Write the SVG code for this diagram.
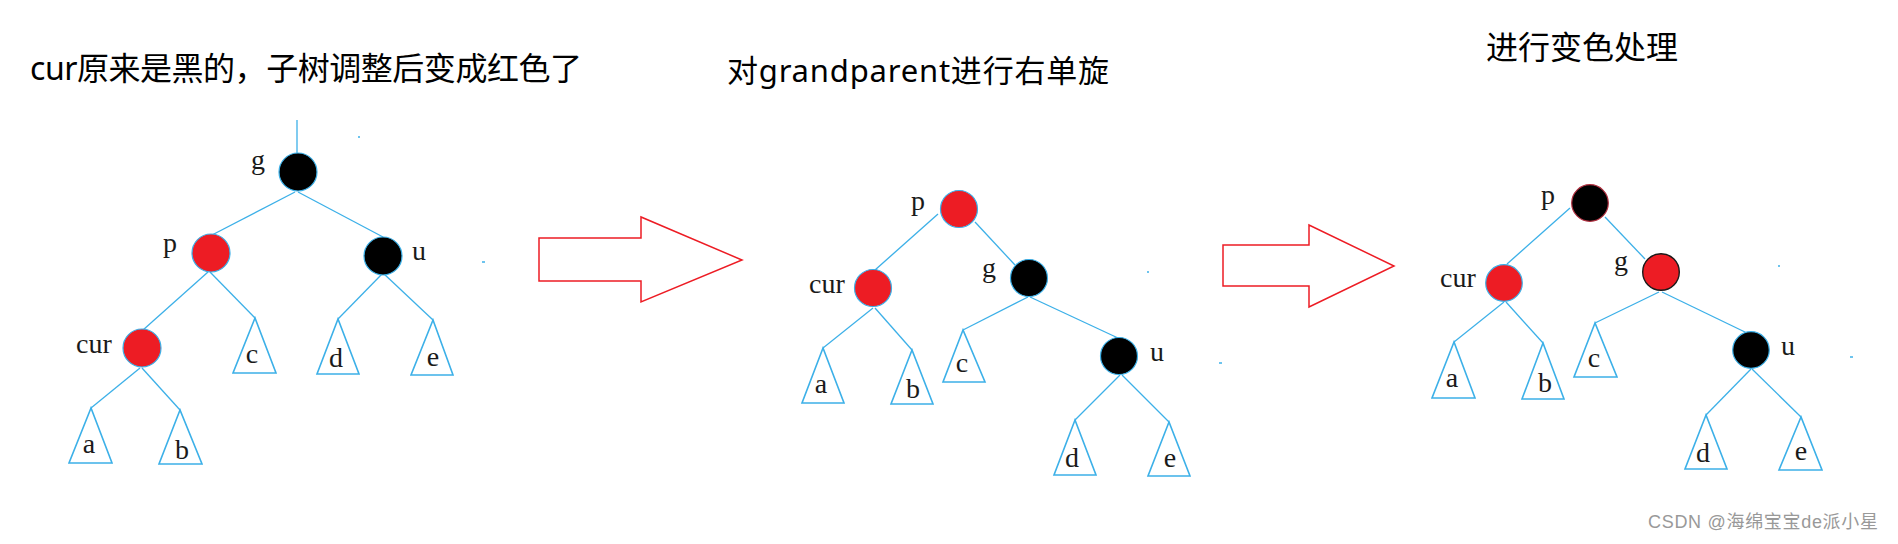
<svg xmlns="http://www.w3.org/2000/svg" width="1898" height="544" viewBox="0 0 1898 544">
<style>
.title{font-family:"Noto Sans","Noto Sans CJK SC",sans-serif;fill:#000}
.lbl{font-family:"Liberation Serif",serif;font-size:28px;fill:#1a1a1a;text-anchor:middle}
.edge{stroke:#3cb0e8;stroke-width:1.3;fill:none}
.tri{stroke:#3cb0e8;stroke-width:1.6;fill:#fff}
.red{fill:#ed1c24;stroke:#3cb0e8;stroke-width:1.2}
.blk{fill:#000;stroke:#3cb0e8;stroke-width:1.2}
.arrow{fill:#fff;stroke:#ed1c24;stroke-width:1.5}
.dot{stroke:#3cb0e8;stroke-width:1.5}
.wm{font-family:"Liberation Sans","Noto Sans CJK SC",sans-serif;font-size:18px;fill:#999}
</style>
<rect width="1898" height="544" fill="#fff"/>

<!-- titles -->
<text class="title" x="30" y="80" font-size="32" textLength="552" lengthAdjust="spacing">cur原来是黑的，子树调整后变成红色了</text>
<text class="title" x="727" y="82" font-size="31" textLength="382" lengthAdjust="spacing">对grandparent进行右单旋</text>
<text class="title" x="1486" y="59" font-size="32">进行变色处理</text>

<!-- arrows -->
<g id="arrow1"><polygon class="arrow" points="539,238 641,238 641,217 742,260 641,302 641,281 539,281"/></g>
<g id="arrow2"><polygon class="arrow" points="1223,245 1309,245 1309,225 1394,266 1309,307 1309,286 1223,286"/></g>

<!-- connectors -->
<g id="connectors">
  <!-- left tree -->
  <line class="edge" x1="297" y1="120" x2="297" y2="153"/>
  <line class="edge" x1="295" y1="192" x2="212" y2="235"/>
  <line class="edge" x1="298" y1="192" x2="383" y2="237"/>
  <line class="edge" x1="208" y1="272" x2="143" y2="330"/>
  <line class="edge" x1="210" y1="272" x2="255" y2="318"/>
  <line class="edge" x1="383" y1="273" x2="338" y2="319"/>
  <line class="edge" x1="383" y1="273" x2="433" y2="320"/>
  <line class="edge" x1="140" y1="368" x2="91" y2="408"/>
  <line class="edge" x1="142" y1="368" x2="180" y2="410"/>
  <!-- middle tree -->
  <line class="edge" x1="938" y1="214" x2="875" y2="270"/>
  <line class="edge" x1="975" y1="222" x2="1015" y2="265"/>
  <line class="edge" x1="873" y1="308" x2="823" y2="348"/>
  <line class="edge" x1="875" y1="308" x2="912" y2="350"/>
  <line class="edge" x1="1028" y1="297" x2="963" y2="330"/>
  <line class="edge" x1="1030" y1="297" x2="1118" y2="338"/>
  <line class="edge" x1="1120" y1="375" x2="1075" y2="420"/>
  <line class="edge" x1="1122" y1="375" x2="1169" y2="422"/>
  <!-- right tree -->
  <line class="edge" x1="1570" y1="208" x2="1507" y2="264"/>
  <line class="edge" x1="1605" y1="217" x2="1645" y2="259"/>
  <line class="edge" x1="1504" y1="302" x2="1454" y2="342"/>
  <line class="edge" x1="1506" y1="302" x2="1543" y2="343"/>
  <line class="edge" x1="1659" y1="292" x2="1595" y2="323"/>
  <line class="edge" x1="1662" y1="292" x2="1747" y2="333"/>
  <line class="edge" x1="1751" y1="369" x2="1706" y2="415"/>
  <line class="edge" x1="1752" y1="369" x2="1801" y2="417"/>
</g>

<!-- small specks -->
<line class="dot" x1="358" y1="137" x2="360" y2="137"/>
<line class="dot" x1="482" y1="262" x2="485" y2="262"/>
<line class="dot" x1="1147" y1="272" x2="1149" y2="272"/>
<line class="dot" x1="1219" y1="363" x2="1222" y2="363"/>
<line class="dot" x1="1778" y1="266" x2="1780" y2="266"/>
<line class="dot" x1="1850" y1="357" x2="1853" y2="357"/>

<!-- left tree nodes -->
<g id="L-g"><circle class="blk" cx="298" cy="172" r="19"/><text class="lbl" x="258" y="169">g</text></g>
<g id="L-p"><circle class="red" cx="211" cy="253" r="19"/><text class="lbl" x="170" y="252">p</text></g>
<g id="L-u"><circle class="blk" cx="383" cy="256" r="19"/><text class="lbl" x="419" y="260">u</text></g>
<g id="L-cur"><circle class="red" cx="142" cy="348" r="19"/><text class="lbl" x="94" y="353">cur</text></g>
<g id="L-a"><polygon class="tri" points="91,408 69,463 112,463"/><text class="lbl" x="89" y="453">a</text></g>
<g id="L-b"><polygon class="tri" points="180,410 159,464 202,464"/><text class="lbl" x="182" y="459">b</text></g>
<g id="L-c"><polygon class="tri" points="255,318 233,373 276,373"/><text class="lbl" x="252" y="363">c</text></g>
<g id="L-d"><polygon class="tri" points="338,319 317,374 359,374"/><text class="lbl" x="336" y="367">d</text></g>
<g id="L-e"><polygon class="tri" points="433,320 411,375 453,375"/><text class="lbl" x="433" y="366">e</text></g>

<!-- middle tree nodes -->
<g id="M-p"><circle class="red" cx="959" cy="209" r="18.5"/><text class="lbl" x="918" y="210">p</text></g>
<g id="M-cur"><circle class="red" cx="873" cy="288" r="18.5"/><text class="lbl" x="827" y="293">cur</text></g>
<g id="M-g"><circle class="blk" cx="1029" cy="278" r="18.5"/><text class="lbl" x="989" y="277">g</text></g>
<g id="M-u"><circle class="blk" cx="1119" cy="356" r="18.5"/><text class="lbl" x="1157" y="361">u</text></g>
<g id="M-a"><polygon class="tri" points="823,348 802,403 844,403"/><text class="lbl" x="821" y="393">a</text></g>
<g id="M-b"><polygon class="tri" points="912,350 891,404 933,404"/><text class="lbl" x="913" y="398">b</text></g>
<g id="M-c"><polygon class="tri" points="963,330 943,382 985,382"/><text class="lbl" x="962" y="372">c</text></g>
<g id="M-d"><polygon class="tri" points="1075,420 1054,475 1096,475"/><text class="lbl" x="1072" y="467">d</text></g>
<g id="M-e"><polygon class="tri" points="1169,422 1148,476 1190,476"/><text class="lbl" x="1170" y="467">e</text></g>

<!-- right tree nodes -->
<g id="R-p"><circle cx="1590" cy="203" r="18.3" fill="#000" stroke="#b03040" stroke-width="1.2"/><text class="lbl" x="1548" y="204">p</text></g>
<g id="R-cur"><circle class="red" cx="1504" cy="283" r="18.3"/><text class="lbl" x="1458" y="287">cur</text></g>
<g id="R-g"><circle cx="1661" cy="272" r="18.3" fill="#ed1c24" stroke="#1a1a1a" stroke-width="1.4"/><text class="lbl" x="1621" y="270">g</text></g>
<g id="R-u"><circle class="blk" cx="1751" cy="350" r="18.3"/><text class="lbl" x="1788" y="355">u</text></g>
<g id="R-a"><polygon class="tri" points="1454,342 1432,398 1475,398"/><text class="lbl" x="1452" y="387">a</text></g>
<g id="R-b"><polygon class="tri" points="1543,343 1522,399 1564,399"/><text class="lbl" x="1545" y="392">b</text></g>
<g id="R-c"><polygon class="tri" points="1595,323 1574,377 1617,377"/><text class="lbl" x="1594" y="367">c</text></g>
<g id="R-d"><polygon class="tri" points="1706,415 1685,469 1727,469"/><text class="lbl" x="1703" y="462">d</text></g>
<g id="R-e"><polygon class="tri" points="1801,417 1779,470 1822,470"/><text class="lbl" x="1801" y="460">e</text></g>

<!-- watermark -->
<text class="wm" x="1648" y="528" textLength="230" lengthAdjust="spacing">CSDN @海绵宝宝de派小星</text>
</svg>
